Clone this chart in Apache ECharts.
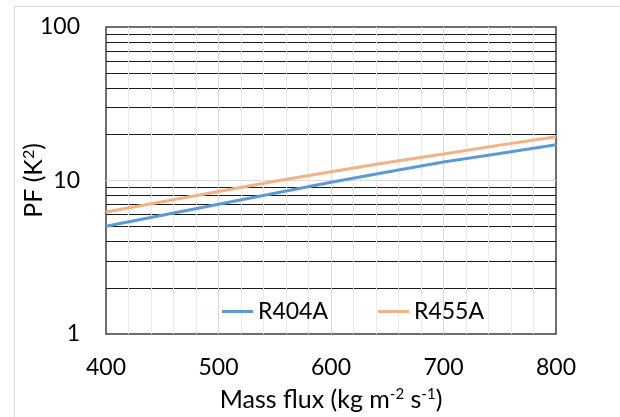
<!DOCTYPE html>
<html>
<head>
<meta charset="utf-8">
<script src="https://cdn.jsdelivr.net/npm/echarts@6/dist/echarts.min.js"></script>
<style>
html,body{margin:0;padding:0;background:#fff;}
#chart{width:620px;height:417px;}
</style>
</head>
<body>
<div id="chart"></div>
<script>
// Data
const massFlux = [400, 450, 500, 550, 600, 650, 700, 750, 800];
const r404a = [5.03, 5.93, 7.0, 8.26, 9.75, 11.35, 13.2, 15.0, 17.1];
const r455a = [6.23, 7.28, 8.49, 9.88, 11.4, 13.1, 14.9, 17.0, 19.3];
const seriesNames = ['R404A', 'R455A'];
const xTitle = 'Mass flux (kg m{sup|-2} s{sup|-1})';
const yTitle = 'PF (K{sup|2})';

const FONT = 'Lato';
const chart = echarts.init(document.getElementById('chart'), null, {renderer: 'canvas'});

function pairs(xs, ys) { return xs.map((x, i) => [x, ys[i]]); }

const option = {
  animation: false,
  backgroundColor: '#fff',
  textStyle: {fontFamily: FONT},
  graphic: [{
    type: 'rect',
    shape: {x: 14.5, y: 6.5, width: 640, height: 440},
    style: {fill: 'none', stroke: '#d9d9d9', lineWidth: 1},
    silent: true, z: -1
  }],
  grid: {
    left: 106, right: 64, top: 27, bottom: 81,
    show: true, borderColor: '#404040', borderWidth: 1.5,
    backgroundColor: 'transparent'
  },
  legend: {
    left: 222, top: 300, padding: 0,
    icon: 'rect', itemWidth: 31, itemHeight: 3, itemGap: 50,
    textStyle: {fontFamily: FONT, fontSize: 23, color: '#000'},
    data: seriesNames
  },
  xAxis: {
    type: 'value', min: 400, max: 800, interval: 100,
    axisLine: {show: false}, axisTick: {show: false},
    axisLabel: {margin: 22, fontFamily: FONT, fontSize: 23, color: '#000'},
    splitLine: {show: true, showMinLine: false, showMaxLine: false, lineStyle: {color: '#d9d9d9', width: 1}},
    minorTick: {show: false, splitNumber: 5},
    minorSplitLine: {show: true, lineStyle: {color: '#eaeaea', width: 1}},
    name: xTitle, nameLocation: 'middle', nameGap: 53, nameMoveOverlap: false,
    nameTextStyle: {
      fontFamily: FONT, fontSize: 25, color: '#000',
      rich: {sup: {fontFamily: FONT, fontSize: 15, verticalAlign: 'top', color: '#000'}}
    }
  },
  yAxis: {
    type: 'log', logBase: 10, min: 1, max: 100,
    axisLine: {show: false}, axisTick: {show: false},
    axisLabel: {margin: 26, fontFamily: FONT, fontSize: 23, color: '#000'},
    splitLine: {show: true, showMinLine: false, showMaxLine: false, lineStyle: {color: '#d9d9d9', width: 1}},
    minorTick: {show: false, splitNumber: 9},
    minorSplitLine: {show: true, lineStyle: {color: '#1a1a1a', width: 1.2}},
    name: yTitle, nameLocation: 'middle', nameGap: 60, nameRotate: 90, nameMoveOverlap: false,
    nameTextStyle: {
      fontFamily: FONT, fontSize: 25, color: '#000',
      rich: {sup: {fontFamily: FONT, fontSize: 16, verticalAlign: 'top', color: '#000'}}
    }
  },
  series: [
    {
      name: seriesNames[0], type: 'line', data: pairs(massFlux, r404a),
      showSymbol: false, symbol: 'none', smooth: false,
      color: '#5B9BD5', lineStyle: {color: '#5B9BD5', width: 3}, z: 3
    },
    {
      name: seriesNames[1], type: 'line', data: pairs(massFlux, r455a),
      showSymbol: false, symbol: 'none', smooth: false,
      color: '#F4B183', lineStyle: {color: '#F4B183', width: 3}, z: 3
    }
  ]
};
chart.setOption(option);
</script>
</body>
</html>
